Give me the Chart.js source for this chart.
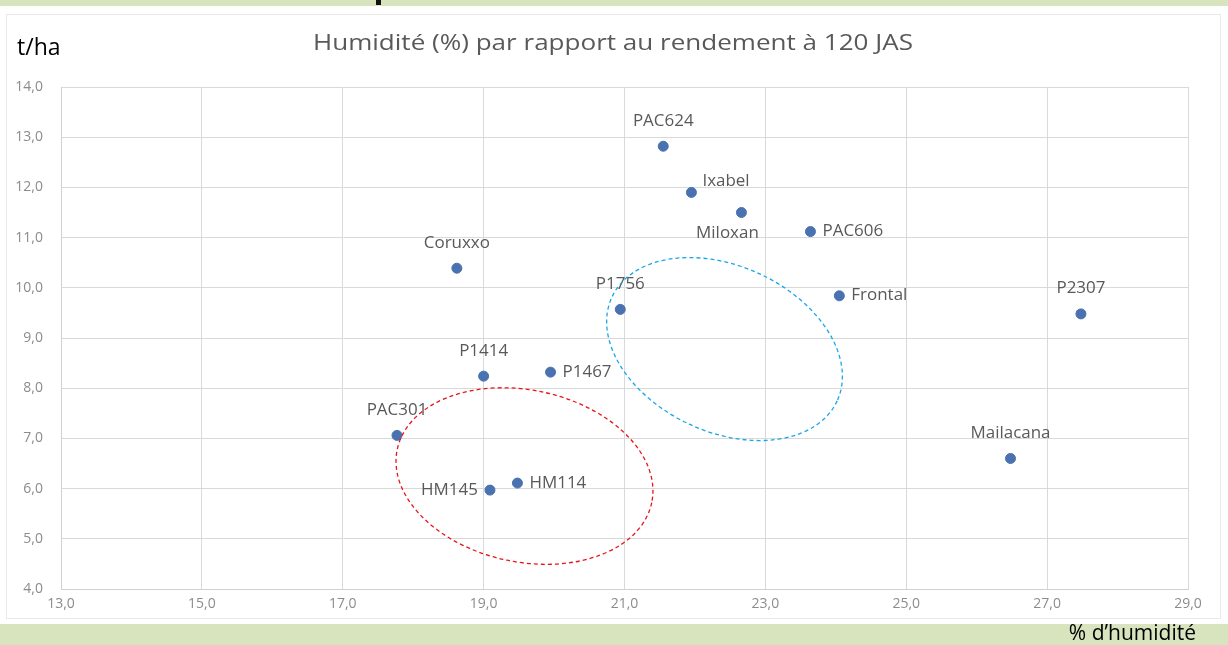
<!DOCTYPE html>
<html><head><meta charset="utf-8">
<script src="https://cdn.jsdelivr.net/npm/chart.js@4.4.1/dist/chart.umd.min.js"></script>
<style>html,body{margin:0;padding:0;background:#fff}#wrap{position:relative;width:1228px;height:645px}</style>
</head><body><div id="wrap"><canvas id="c" width="1228" height="645"></canvas></div>
<script>
const varieties = ['PAC624','Ixabel','Miloxan','PAC606','Frontal','P2307','Mailacana','Coruxxo','P1756','P1414','P1467','PAC301','HM145','HM114'];
const humidity  = [21.55, 21.95, 22.66, 23.64, 24.05, 27.48, 26.48, 18.62, 20.94, 19.00, 19.95, 17.77, 19.09, 19.48];
const yieldTha  = [12.82, 11.90, 11.50, 11.12, 9.84, 9.48, 6.60, 10.39, 9.57, 8.24, 8.32, 7.06, 5.97, 6.11];
const labelSide = ['top','topright','bottom','right','right','top','top','top','top','top','right','top','left','right'];
const xTicks = [13,15,17,19,21,23,25,27,29];
const yTicks = [4,5,6,7,8,9,10,11,12,13,14];
const titleText = 'Humidité (%) par rapport au rendement à 120 JAS';
const yUnit = 't/ha';
const xUnit = '% d\u2019humidité';
// highlighted groups: centre in data units
const groups = [
  {cx: 22.42, cy: 8.78, color: '#1aa7e8'},
  {cx: 19.58, cy: 6.25, color: '#e8141a'}
];
const groupShape = [{a:124,b:83,rot:24.7},{a:130,b:86,rot:11.8}];

const fmt = v => v.toFixed(1).replace('.', ',');
const FONT = "'Open Sans', 'Noto Sans', sans-serif";

function stretchText(ctx, text, x, y, align, sx) {
  const w = ctx.measureText(text).width * sx;
  let left = x;
  if (align === 'center') left = x - w / 2;
  else if (align === 'right') left = x - w;
  ctx.save();
  ctx.textAlign = 'left';
  ctx.translate(left, y);
  ctx.scale(sx, 1);
  ctx.fillText(text, 0, 0);
  ctx.restore();
}

const decor = {
  id: 'decor',
  beforeDraw(chart) {
    const ctx = chart.ctx;
    ctx.save();
    ctx.fillStyle = '#ffffff';
    ctx.fillRect(0,0,1228,645);
    ctx.fillStyle = '#d7e4bd';
    ctx.fillRect(0,0,1228,6);
    ctx.fillRect(0,624,1228,21);
    ctx.fillStyle = '#111';
    ctx.fillRect(376,0,5,5);
    ctx.strokeStyle = '#e9e9e9';
    ctx.lineWidth = 1;
    ctx.strokeRect(6.5,14.5,1214,604);
    ctx.restore();
  },
  afterDatasetsDraw(chart) {
    const ctx = chart.ctx;
    const xs = chart.scales.x, ys = chart.scales.y;
    ctx.save();
    // data labels
    ctx.font = "16px " + FONT;
    ctx.fillStyle = '#595959';
    ctx.textBaseline = 'middle';
    const sx = 1.06;
    const meta = chart.getDatasetMeta(0);
    meta.data.forEach((pt, i) => {
      const x = pt.x, y = pt.y, s = labelSide[i], t = varieties[i];
      if (s === 'top') stretchText(ctx, t, x, y - 25, 'center', sx);
      else if (s === 'bottom') stretchText(ctx, t, x - 14, y + 21, 'center', sx);
      else if (s === 'right') stretchText(ctx, t, x + 12, y, 'left', sx);
      else if (s === 'left') stretchText(ctx, t, x - 12, y, 'right', sx);
      else if (s === 'topright') stretchText(ctx, t, x + 11, y - 11, 'left', sx);
    });
    // group ellipses
    groups.forEach((g, i) => {
      const sh = groupShape[i];
      ctx.beginPath();
      ctx.ellipse(xs.getPixelForValue(g.cx), ys.getPixelForValue(g.cy), sh.a, sh.b, sh.rot*Math.PI/180, 0, Math.PI*2);
      ctx.setLineDash([4,3]);
      ctx.strokeStyle = g.color;
      ctx.lineWidth = 1.3;
      ctx.stroke();
    });
    ctx.setLineDash([]);
    // title and units
    ctx.fillStyle = '#595959';
    ctx.font = "21px " + FONT;
    const tw = ctx.measureText(titleText).width;
    stretchText(ctx, titleText, 613, 44, 'center', 600 / tw);
    ctx.fillStyle = '#000';
    ctx.font = "23px " + FONT;
    stretchText(ctx, yUnit, 17, 48, 'left', 1);
    ctx.font = "21px " + FONT;
    stretchText(ctx, xUnit, 1196, 634, 'right', 1);
    ctx.restore();
  }
};

new Chart(document.getElementById('c'), {
  type: 'scatter',
  data: {
    datasets: [{
      data: humidity.map((h, i) => ({x: h, y: yieldTha[i]})),
      backgroundColor: '#4a72b0',
      borderColor: '#4a72b0',
      pointRadius: 5,
      pointHoverRadius: 5
    }]
  },
  options: {
    responsive: false,
    animation: false,
    devicePixelRatio: 1,
    layout: {padding: {top: 87, right: 40, left: 0, bottom: 0}},
    plugins: {legend: {display: false}, tooltip: {enabled: false}},
    scales: {
      x: {
        type: 'linear', min: 13, max: 29,
        afterBuildTicks: s => { s.ticks = xTicks.map(v => ({value: v})); },
        afterFit: s => { s.height = 56; },
        grid: {color: '#d9d9d9', drawTicks: false},
        border: {color: '#d0d0d0'},
        ticks: {padding: 7, color: '#8c8c8c', font: {size: 14, family: FONT}, callback: v => fmt(v)}
      },
      y: {
        type: 'linear', min: 4, max: 14,
        afterBuildTicks: s => { s.ticks = yTicks.map(v => ({value: v})); },
        afterFit: s => { s.width = 61; },
        grid: {color: '#d9d9d9', drawTicks: false},
        border: {color: '#d0d0d0'},
        ticks: {padding: 18, color: '#8c8c8c', font: {size: 14, family: FONT}, callback: v => fmt(v)}
      }
    }
  },
  plugins: [decor]
});
</script></body></html>
